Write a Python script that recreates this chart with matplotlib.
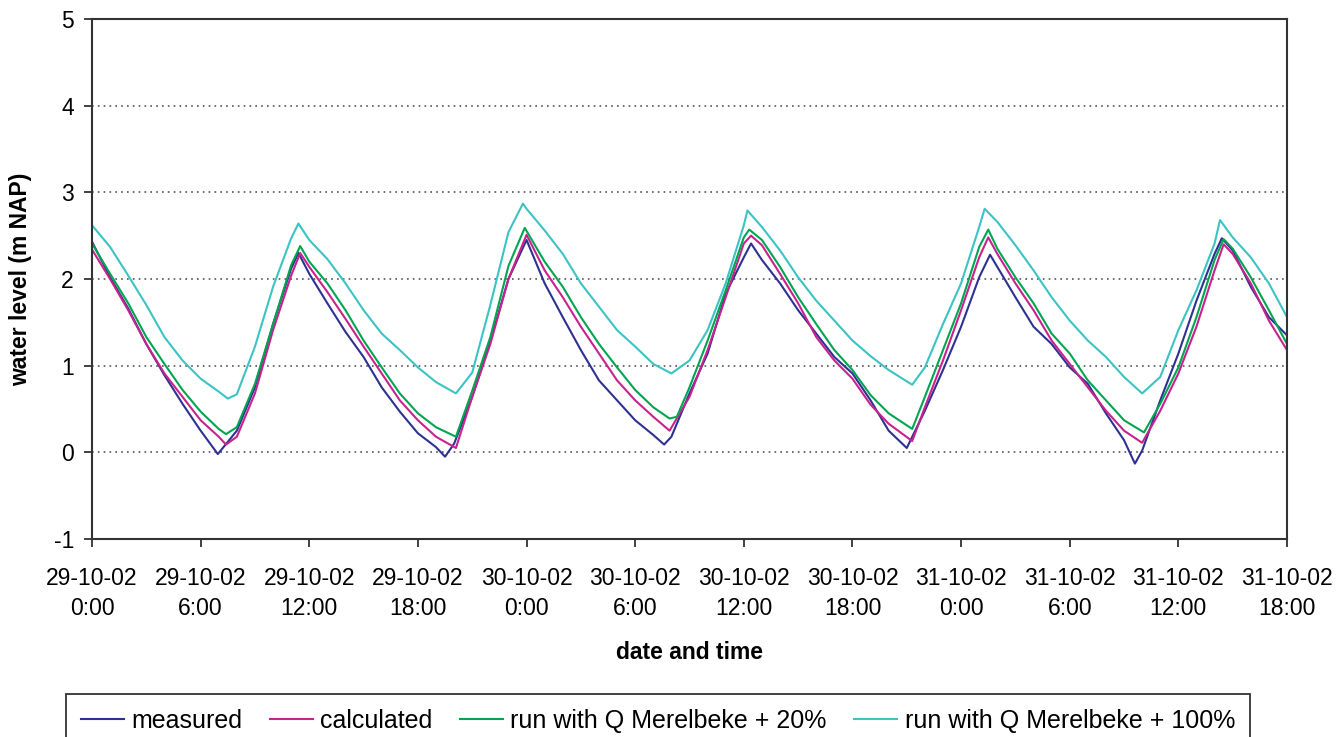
import numpy as np
import matplotlib
matplotlib.use('Agg')
import matplotlib.pyplot as plt

plt.rcParams['font.family'] = ['Liberation Sans', 'DejaVu Sans']
plt.rcParams['axes.unicode_minus'] = False

# hours since 29-10-02 0:00, water level (m NAP)
t_meas = [0, 1, 2, 3, 4, 5, 6, 6.95, 8, 9, 10, 11, 11.4, 12, 13, 14, 15, 16, 17, 18, 19, 19.5, 20, 21, 22, 23, 24,
          25, 26, 27, 28, 29, 30, 31, 31.6, 32, 33, 34, 35, 36, 36.4, 37, 38, 39, 40, 41, 42, 43, 44, 45, 46, 47, 48,
          49, 49.6, 50, 51, 52, 53, 54, 55, 56, 57, 57.6, 58, 59, 60, 61, 62, 62.4, 63, 64, 65, 66]
v_meas = [2.43, 2.02, 1.66, 1.25, 0.89, 0.56, 0.25, -0.02, 0.25, 0.75, 1.48, 2.12, 2.30, 2.06, 1.72, 1.39, 1.10, 0.75,
          0.47, 0.22, 0.06, -0.05, 0.10, 0.64, 1.28, 2.00, 2.45, 1.95, 1.56, 1.18, 0.83, 0.60, 0.37, 0.20, 0.09, 0.18,
          0.68, 1.14, 1.83, 2.25, 2.41, 2.22, 1.95, 1.64, 1.37, 1.10, 0.91, 0.60, 0.25, 0.05, 0.48, 0.95, 1.45, 2.02,
          2.28, 2.14, 1.79, 1.45, 1.25, 0.98, 0.79, 0.45, 0.14, -0.13, 0.02, 0.60, 1.14, 1.75, 2.29, 2.47, 2.33, 1.91,
          1.56, 1.35]

t_calc = [0, 1, 2, 3, 4, 5, 6, 7, 7.4, 8, 9, 10, 11, 11.5, 12, 13, 14, 15, 16, 17, 18, 19, 20.1, 21, 22, 23, 24, 25,
          26, 27, 28, 29, 30, 31, 31.9, 33, 34, 35, 36, 36.4, 37, 38, 39, 40, 41, 42, 43, 44, 45.3, 46, 47, 48, 49,
          49.5, 50, 51, 52, 53, 54, 55, 56, 57, 58, 59, 60, 61, 62, 62.5, 63, 64, 65, 66]
v_calc = [2.34, 2.00, 1.64, 1.25, 0.91, 0.64, 0.37, 0.18, 0.09, 0.18, 0.68, 1.41, 2.04, 2.30, 2.14, 1.85, 1.54, 1.22,
          0.91, 0.60, 0.37, 0.18, 0.05, 0.64, 1.25, 2.00, 2.51, 2.10, 1.79, 1.45, 1.14, 0.83, 0.60, 0.41, 0.25, 0.64,
          1.18, 1.79, 2.41, 2.50, 2.39, 2.06, 1.72, 1.33, 1.06, 0.85, 0.55, 0.33, 0.13, 0.52, 1.06, 1.64, 2.25, 2.48,
          2.29, 1.95, 1.64, 1.29, 1.02, 0.75, 0.48, 0.25, 0.11, 0.48, 0.91, 1.45, 2.10, 2.40, 2.29, 1.95, 1.52, 1.18]

t_q20 = [0, 1, 2, 3, 4, 5, 6, 7, 7.4, 8, 9, 10, 11, 11.5, 12, 13, 14, 15, 16, 17, 18, 19, 20.1, 21, 22, 23, 23.9, 25,
         26, 27, 28, 29, 30, 31, 31.9, 32.3, 33, 34, 35, 36, 36.3, 37, 38, 39, 40, 41, 42, 43, 44, 45.3, 46, 47, 48,
         49, 49.5, 50, 51, 52, 53, 54, 55, 56, 57, 58.1, 59, 60, 61, 62, 62.5, 63, 64, 65, 66]
v_q20 = [2.41, 2.06, 1.72, 1.33, 1.02, 0.72, 0.47, 0.27, 0.21, 0.29, 0.79, 1.48, 2.16, 2.38, 2.20, 1.95, 1.64, 1.29,
         0.98, 0.68, 0.45, 0.29, 0.18, 0.71, 1.33, 2.15, 2.59, 2.20, 1.91, 1.56, 1.25, 0.98, 0.72, 0.52, 0.39, 0.41,
         0.75, 1.29, 1.87, 2.48, 2.57, 2.45, 2.14, 1.79, 1.48, 1.18, 0.95, 0.66, 0.45, 0.27, 0.64, 1.18, 1.72, 2.37,
         2.57, 2.35, 2.02, 1.72, 1.37, 1.14, 0.83, 0.60, 0.37, 0.23, 0.56, 0.98, 1.56, 2.22, 2.46, 2.35, 2.02, 1.64,
         1.25]

t_q100 = [0, 1, 2, 3, 4, 5, 6, 7, 7.5, 8, 9, 10, 11, 11.4, 12, 13, 14, 15, 16, 17, 18, 19, 20.1, 21, 22, 23, 23.8, 24,
          25, 26, 27, 28, 29, 30, 31, 32, 33, 34, 35, 36, 36.2, 37, 38, 39, 40, 41, 42, 43, 44, 45.3, 46, 47, 48, 49,
          49.3, 50, 51, 52, 53, 54, 55, 56, 57, 58, 59, 60, 61, 62, 62.3, 63, 64, 65, 66]
v_q100 = [2.62, 2.37, 2.04, 1.70, 1.33, 1.06, 0.85, 0.70, 0.62, 0.67, 1.22, 1.91, 2.47, 2.64, 2.45, 2.23, 1.95, 1.64,
          1.37, 1.18, 0.98, 0.81, 0.68, 0.92, 1.70, 2.54, 2.87, 2.81, 2.56, 2.29, 1.95, 1.68, 1.41, 1.22, 1.02, 0.91,
          1.06, 1.41, 1.95, 2.62, 2.79, 2.60, 2.33, 2.02, 1.75, 1.52, 1.29, 1.11, 0.95, 0.78, 0.98, 1.48, 1.95, 2.60,
          2.81, 2.66, 2.39, 2.10, 1.79, 1.52, 1.29, 1.10, 0.87, 0.68, 0.87, 1.41, 1.87, 2.41, 2.68, 2.48, 2.25, 1.95,
          1.56]

tick_hours = [0, 6, 12, 18, 24, 30, 36, 42, 48, 54, 60, 66]
tick_labels = ['29-10-02\n0:00', '29-10-02\n6:00', '29-10-02\n12:00', '29-10-02\n18:00',
               '30-10-02\n0:00', '30-10-02\n6:00', '30-10-02\n12:00', '30-10-02\n18:00',
               '31-10-02\n0:00', '31-10-02\n6:00', '31-10-02\n12:00', '31-10-02\n18:00']
names = ['measured', 'calculated', 'run with Q Merelbeke + 20%', 'run with Q Merelbeke + 100%']
colors = ['#2E3192', '#C8228E', '#00A551', '#3CC3C3']

fs = 16.5
fig = plt.figure(figsize=(13.4, 7.37), dpi=100)
ax = fig.add_axes([92/1340, 1-539/737, 1195/1340, 520/737])

for t, v, c, n in zip([t_meas, t_calc, t_q20, t_q100], [v_meas, v_calc, v_q20, v_q100], colors, names):
    ax.plot(t, v, color=c, lw=1.5, label=n)

ax.set_xlim(0, 66)
ax.set_ylim(-1, 5)
ax.set_yticks(range(-1, 6))
ax.set_xticks(tick_hours)
ax.set_xticklabels(tick_labels, linespacing=1.4)
for y in range(0, 5):
    ax.axhline(y, color='#555555', lw=1.2, ls=(0, (1, 2.5)), zorder=0)

for s in ax.spines.values():
    s.set_linewidth(1.5)
    s.set_color('#333333')
ax.tick_params(axis='x', length=6, width=1.3, pad=14, labelsize=fs, color='#333333')
ax.tick_params(axis='y', length=6, width=1.3, pad=7, labelsize=fs, color='#333333')

ax.set_xlabel('date and time', fontsize=fs, fontweight='bold')
ax.xaxis.set_label_coords(0.5, -0.218)
ax.xaxis.label.set_va('center')
ax.set_ylabel('water level (m NAP)', fontsize=fs, fontweight='bold')
ax.yaxis.set_label_coords(-0.06, 0.5)
ax.yaxis.label.set_va('center')

leg = fig.legend(loc='upper center', bbox_to_anchor=(658/1340, 1-694/737), ncol=4, fontsize=18,
                 frameon=True, fancybox=False, edgecolor='#333333', framealpha=1,
                 handlelength=1.72, handletextpad=0.3, columnspacing=1.1, borderpad=0.6,
                 borderaxespad=0)
leg.get_frame().set_linewidth(1.3)

fig.savefig('out.png', dpi=100)
